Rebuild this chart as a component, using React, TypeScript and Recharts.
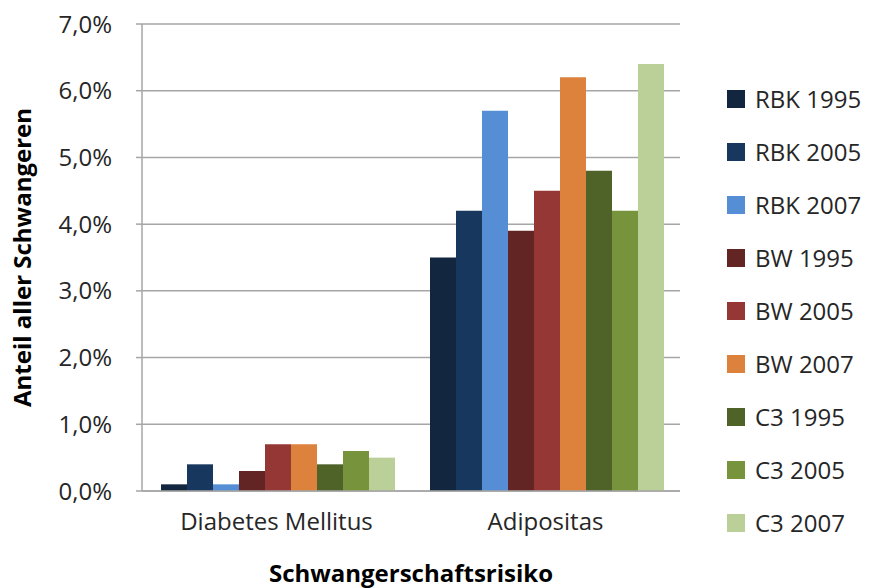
import React from 'react';
import {
  BarChart,
  Bar,
  XAxis,
  YAxis,
  CartesianGrid,
  Label,
} from 'recharts';

const categories = ['Diabetes Mellitus', 'Adipositas'];

const seriesNames = [
  'RBK 1995',
  'RBK 2005',
  'RBK 2007',
  'BW 1995',
  'BW 2005',
  'BW 2007',
  'C3 1995',
  'C3 2005',
  'C3 2007',
];

// values in percent, one entry per category
const rbk1995 = [0.1, 3.5];
const rbk2005 = [0.4, 4.2];
const rbk2007 = [0.1, 5.7];
const bw1995 = [0.3, 3.9];
const bw2005 = [0.7, 4.5];
const bw2007 = [0.7, 6.2];
const c31995 = [0.4, 4.8];
const c32005 = [0.6, 4.2];
const c32007 = [0.5, 6.4];

const yTicks = [0, 1, 2, 3, 4, 5, 6, 7];

const colors = [
  '#12263f',
  '#17375e',
  '#558ed5',
  '#632523',
  '#953735',
  '#dd823c',
  '#4f6228',
  '#77933c',
  '#bbcf98',
];

const allSeries = [rbk1995, rbk2005, rbk2007, bw1995, bw2005, bw2007, c31995, c32005, c32007];

const data = categories.map((name, i) => {
  const row: Record<string, string | number> = { name };
  seriesNames.forEach((s, j) => {
    row[s] = allSeries[j][i];
  });
  return row;
});

const font = '"Open Sans", Lato, sans-serif';

const fmt = (v: number) => `${v.toFixed(1).replace('.', ',')}%`;

function LegendBox() {
  return (
    <div
      style={{
        position: 'absolute',
        left: 727,
        top: 72,
        fontFamily: font,
        fontSize: 24,
        color: '#262626',
      }}
    >
      {seriesNames.map((s, i) => (
        <div key={s} style={{ display: 'flex', alignItems: 'center', height: 53 }}>
          <span
            style={{
              display: 'inline-block',
              width: 18,
              height: 18,
              background: colors[i],
              marginRight: 10,
            }}
          />
          <span>{s}</span>
        </div>
      ))}
    </div>
  );
}

export default function App() {
  return (
    <div style={{ position: 'absolute', left: 0, top: 0, width: 878, height: 588, background: '#fff' }}>
      <BarChart
        width={878}
        height={588}
        data={data}
        margin={{ top: 24, right: 198, left: 0, bottom: 0 }}
        barCategoryGap={19}
        barGap={0}
      >
        <CartesianGrid vertical={false} stroke="#a6a6a6" strokeWidth={1.5} />
        <XAxis
          dataKey="name"
          height={97}
          tickLine={false}
          tickSize={0}
          tickMargin={22}
          stroke="#a6a6a6"
          strokeWidth={1.5}
          tick={{ fill: '#262626', fontSize: 24, fontFamily: font }}
        >
          <Label
            value="Schwangerschaftsrisiko"
            position="insideBottom"
            offset={6}
            style={{ fill: '#000', fontSize: 24, fontWeight: 'bold', fontFamily: font }}
          />
        </XAxis>
        <YAxis
          width={142}
          domain={[0, 7]}
          ticks={yTicks}
          tickFormatter={fmt}
          tickSize={6}
          tickMargin={24}
          stroke="#a6a6a6"
          strokeWidth={1.5}
          tick={{ fill: '#262626', fontSize: 24, fontFamily: font }}
        >
          <Label
            value="Anteil aller Schwangeren"
            angle={-90}
            position="insideLeft"
            offset={22}
            style={{
              fill: '#000',
              fontSize: 24,
              fontWeight: 'bold',
              fontFamily: font,
              textAnchor: 'middle',
            }}
          />
        </YAxis>
        {seriesNames.map((s, i) => (
          <Bar key={s} dataKey={s} fill={colors[i]} isAnimationActive={false} />
        ))}
      </BarChart>
      <LegendBox />
    </div>
  );
}
